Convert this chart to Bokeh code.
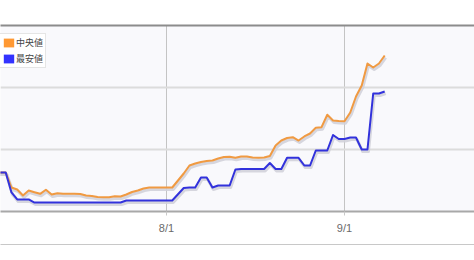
import pandas as pd
from bokeh.plotting import figure
from bokeh.models import (ColumnDataSource, Range1d, FixedTicker, LinearAxis,
                          Grid, Legend, LegendItem)
from bokeh.transform import dodge
from bokeh.embed import file_html
from bokeh.resources import INLINE

# ---- data ----
dates = pd.date_range("2011-07-02", "2011-09-08", freq="D")
median_price = [6290, 6290, 6290, 3870, 3550, 2580, 3390, 3110, 2850, 3500,
                2740, 2950, 2850, 2850, 2850, 2820, 2580, 2500, 2340, 2310,
                2310, 2470, 2420, 2740, 3150, 3390, 3710, 3870, 3870, 3870,
                3870, 3870, 5000, 6130, 7420, 7740, 7980, 8150, 8230, 8550,
                8790, 8820, 8660, 8870, 8870, 8710, 8660, 8710, 8950, 10650,
                11450, 11850, 11980, 11450, 12100, 12580, 13500, 13600, 15600, 14680,
                14600, 14560, 15970, 18550, 20320, 23870, 23230, 23870, 25160]
lowest_price = [6290, 6290, 6290, 3070, 1940, 1940, 1940, 1450, 1450, 1450,
                1450, 1450, 1450, 1450, 1450, 1450, 1450, 1450, 1450, 1450,
                1450, 1450, 1450, 1770, 1770, 1770, 1770, 1770, 1770, 1770,
                1770, 1770, 2780, 3790, 3870, 3870, 5480, 5480, 3870, 4190,
                4190, 4190, 6770, 6850, 6850, 6850, 6850, 6850, 7820, 6850,
                6850, 8660, 8660, 8660, 7420, 7420, 9840, 9840, 9840, 12340,
                11690, 11690, 11940, 11940, 10000, 10000, 19030, 19030, 19350]
series_names = ["中央値", "最安値"]
tick_dates = ["2011-08-01", "2011-09-01"]
tick_labels = ["8/1", "9/1"]
y_gridlines = [10000, 20000]

# ---- layout constants ----
W, H = 474, 260
anchor = pd.Timestamp("2011-08-01")
day_ms = 86400000.0
x_start = anchor.value / 1e6 - 28.91 * day_ms
x_end = anchor.value / 1e6 + 53.64 * day_ms
y_lo, y_hi = 0, 30000
frame_h = 186
ms_per_px = (x_end - x_start) / W
val_per_px = (y_hi - y_lo) / frame_h

tick_ms = [pd.Timestamp(d).value / 1e6 for d in tick_dates]

src = ColumnDataSource(dict(x=dates, med=median_price, low=lowest_price))

p = figure(width=W, height=H, output_backend="svg", toolbar_location=None,
           x_axis_type=None, y_axis_type=None,
           x_range=Range1d(x_start, x_end), y_range=Range1d(y_lo, y_hi),
           min_border_left=0, min_border_right=0, min_border_top=25,
           min_border_bottom=49,
           background_fill_color="#f9f9fc", border_fill_color="white",
           outline_line_color=None)

# grids
p.add_layout(Grid(dimension=0, ticker=FixedTicker(ticks=tick_ms),
                  grid_line_color="#c4c4c4", grid_line_width=1))
p.add_layout(Grid(dimension=1, ticker=FixedTicker(ticks=y_gridlines),
                  grid_line_color="#dcdcdc", grid_line_width=2))

# top border
top_axis = LinearAxis(ticker=FixedTicker(ticks=[]), axis_line_color="#8c8c8c",
                      axis_line_width=2, major_tick_line_color=None,
                      minor_tick_line_color=None, major_label_text_font_size="0px")
p.add_layout(top_axis, "above")

# bottom axis
xaxis = LinearAxis(ticker=FixedTicker(ticks=tick_ms),
                   major_label_overrides={t: l for t, l in zip(tick_ms, tick_labels)},
                   axis_line_color="#a8a8a8", axis_line_width=2,
                   major_tick_line_color="#c8c8c8", major_tick_out=4, major_tick_in=0,
                   minor_tick_line_color=None,
                   major_label_text_font="Liberation Sans",
                   major_label_text_font_size="11px",
                   major_label_text_color="#6a6a6a",
                   major_label_standoff=6,
                   axis_label=" ", axis_label_text_font_size="1px",
                   axis_label_standoff=4)
p.add_layout(xaxis, "below")

sep_axis = LinearAxis(ticker=FixedTicker(ticks=[]), axis_line_color="#c8c8c8",
                      axis_line_width=1, major_tick_line_color=None,
                      minor_tick_line_color=None, major_label_text_font_size="0px")
p.add_layout(sep_axis, "below")

# shadows
for col in ["med", "low"]:
    p.line(x=dodge("x", 1 * ms_per_px), y=dodge(col, -2 * val_per_px), source=src,
           line_color="#d2d2da", line_width=3, line_join="round", line_alpha=0.9)

p.line(x="x", y="med", source=src, line_color="#f09a42", line_width=2, line_join="round")
p.line(x="x", y="low", source=src, line_color="#3232dc", line_width=2, line_join="round")

# legend swatches: zero-area quads anchored on the first data point
sw_src = ColumnDataSource(dict(l=dates[:1], r=dates[:1],
                               b=median_price[:1], t=median_price[:1]))
sw_med = p.quad(left="l", right="r", bottom="b", top="t", source=sw_src,
                fill_color="#ff9933", line_color=None)
sw_low = p.quad(left="l", right="r", bottom="b", top="t", source=sw_src,
                fill_color="#3333ff", line_color=None)

legend = Legend(items=[LegendItem(label=series_names[0], renderers=[sw_med]),
                       LegendItem(label=series_names[1], renderers=[sw_low])],
                location=(-1, 143), orientation="vertical",
                glyph_width=13, glyph_height=11, label_height=11, label_width=10,
                spacing=3, padding=2, margin=0, label_standoff=1,
                label_text_font="Noto Sans CJK JP", label_text_font_size="9px",
                label_text_color="#444444",
                border_line_color="#cccccc", border_line_width=1,
                background_fill_color="white", background_fill_alpha=1)
p.add_layout(legend)

open("out.html", "w").write(file_html(p, INLINE))
